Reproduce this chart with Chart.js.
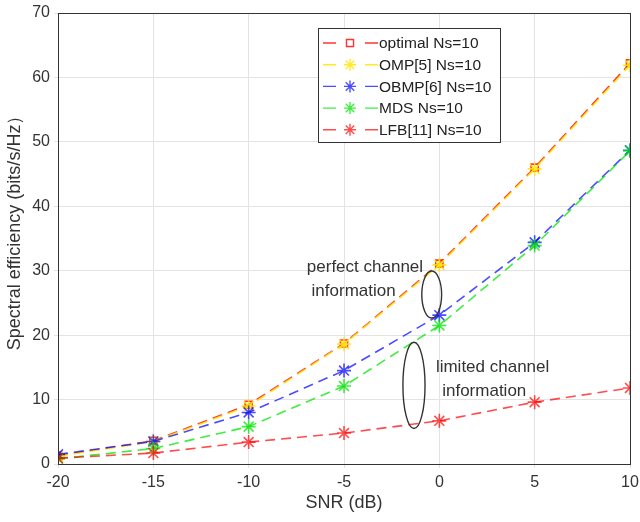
<!DOCTYPE html>
<html>
<head>
<meta charset="utf-8">
<script src="https://cdn.jsdelivr.net/npm/chart.js@4.4.0/dist/chart.umd.min.js"></script>
<style>
  body { margin: 0; background: #fff; }
  #wrap { width: 640px; height: 522px; }
</style>
</head>
<body>
<div id="wrap"><canvas id="chart"></canvas></div>
<script>
// SNR values (dB)
const snr = [-20, -15, -10, -5, 0, 5, 10];

// spectral efficiency per scheme
const optimal = [1.3, 3.6, 9.2, 18.7, 31.1, 46.0, 62.2];
const omp     = [1.2, 3.5, 9.0, 18.6, 30.9, 45.8, 61.9];
const obmp    = [1.5, 3.5, 8.0, 14.5, 23.1, 34.4, 48.7];
const mds     = [0.8, 2.4, 5.8, 12.1, 21.5, 33.9, 48.6];
const lfb     = [0.9, 1.7, 3.4, 4.8, 6.7, 9.6, 11.8];

const xTicks = [-20, -15, -10, -5, 0, 5, 10];
const yTicks = [0, 10, 20, 30, 40, 50, 60, 70];

// annotation notes, in data units
const notes = [
    { text: 'perfect channel', x: -6.95, y: 30.6 },
    { text: 'information', x: -6.7, y: 26.8 },
    { text: 'limited channel', x: -0.18, y: 15.0 },
    { text: 'information', x: 0.15, y: 11.3 }
];
const ellipses = [
    { x: -0.4, y: 26.3, rx: 0.52, ry: 3.65 },
    { x: -1.33, y: 12.2, rx: 0.58, ry: 6.7 }
];

const font = '"Liberation Sans", Arial, sans-serif';

function series(label, values, color, style, order) {
    return {
        label: label,
        data: snr.map((x, i) => ({ x: x, y: values[i] })),
        borderColor: color,
        backgroundColor: color,
        borderWidth: 1.6,
        borderDash: [10, 6],
        pointStyle: style,
        pointRadius: style === 'rect' ? 5 : 7,
        pointBorderColor: color,
        pointBackgroundColor: style === 'rect' ? 'rgba(0,0,0,0)' : color,
        pointBorderWidth: 1.6,
        tension: 0,
        order: order
    };
}

const datasets = [
    series('optimal Ns=10', optimal, 'rgba(255,0,0,0.8)', 'rect', 4),
    series('OMP[5] Ns=10', omp, 'rgba(255,230,0,0.85)', 'star', 3),
    series('OBMP[6] Ns=10', obmp, 'rgba(0,0,255,0.7)', 'star', 2),
    series('MDS Ns=10', mds, 'rgba(0,230,0,0.75)', 'star', 1),
    series('LFB[11] Ns=10', lfb, 'rgba(255,0,0,0.7)', 'star', 0)
];

// top/right border of the axes box
const frame = {
    id: 'frame',
    afterDraw(chart) {
        const a = chart.chartArea, ctx = chart.ctx;
        ctx.save();
        ctx.strokeStyle = '#333';
        ctx.lineWidth = 1;
        ctx.strokeRect(a.left + 0.5, a.top + 0.5, a.right - a.left, a.bottom - a.top);
        ctx.restore();
    }
};

// text notes and ellipses
const annotate = {
    id: 'annotate',
    afterDraw(chart) {
        const ctx = chart.ctx, xs = chart.scales.x, ys = chart.scales.y;
        ctx.save();
        ctx.fillStyle = '#333';
        ctx.font = '17px ' + font;
        ctx.textAlign = 'left';
        ctx.textBaseline = 'middle';
        notes.forEach(n => ctx.fillText(n.text, xs.getPixelForValue(n.x), ys.getPixelForValue(n.y)));
        ctx.strokeStyle = '#333';
        ctx.lineWidth = 1.4;
        ellipses.forEach(e => {
            const cx = xs.getPixelForValue(e.x), cy = ys.getPixelForValue(e.y);
            const rx = Math.abs(xs.getPixelForValue(e.x + e.rx) - cx);
            const ry = Math.abs(ys.getPixelForValue(e.y + e.ry) - cy);
            ctx.beginPath();
            ctx.ellipse(cx, cy, rx, ry, 0, 0, Math.PI * 2);
            ctx.stroke();
        });
        ctx.restore();
    }
};

// matlab style legend box in upper right
const legendBox = {
    id: 'legendBox',
    afterDraw(chart) {
        const ctx = chart.ctx;
        const left = 318, top = 28, w = 182, h = 114, row = 21.7;
        ctx.save();
        ctx.fillStyle = '#fff';
        ctx.fillRect(left, top, w, h);
        ctx.strokeStyle = '#333';
        ctx.lineWidth = 1;
        ctx.strokeRect(left + 0.5, top + 0.5, w, h);
        ctx.font = '15.5px ' + font;
        ctx.textBaseline = 'middle';
        chart.data.datasets.forEach((ds, i) => {
            const y = top + 15 + i * row;
            ctx.strokeStyle = ds.borderColor;
            ctx.lineWidth = 1.4;
            ctx.setLineDash([]);
            ctx.beginPath();
            ctx.moveTo(323, y); ctx.lineTo(336, y);
            ctx.moveTo(365, y); ctx.lineTo(378, y);
            ctx.stroke();
            ctx.fillStyle = ds.pointBackgroundColor;
            Chart.helpers.drawPoint(ctx, {
                pointStyle: ds.pointStyle,
                radius: ds.pointStyle === 'rect' ? 5 : 6,
                rotation: 0,
                borderWidth: ds.pointBorderWidth
            }, 350, y);
            ctx.fillStyle = '#222';
            ctx.fillText(ds.label, 379, y + 1);
        });
        ctx.restore();
    }
};

new Chart(document.getElementById('chart'), {
    type: 'line',
    data: { datasets: datasets },
    options: {
        responsive: true,
        maintainAspectRatio: false,
        animation: false,
        layout: { padding: { top: 13, right: 10, left: 0, bottom: 4 } },
        plugins: {
            legend: { display: false },
            tooltip: { enabled: false }
        },
        scales: {
            x: {
                type: 'linear',
                min: -20,
                max: 10,
                afterBuildTicks: s => { s.ticks = xTicks.map(v => ({ value: v })); },
                afterFit: s => { s.height = 54; s.paddingLeft = 0; s.paddingRight = 0; },
                ticks: { color: '#333', font: { family: font, size: 16 }, padding: 5 },
                grid: { color: '#e3e3e3', tickLength: 4 },
                border: { color: '#333' },
                title: { display: true, text: 'SNR (dB)', color: '#333', font: { family: font, size: 18 }, padding: { top: 0 } }
            },
            y: {
                min: 0,
                max: 70,
                afterBuildTicks: s => { s.ticks = yTicks.map(v => ({ value: v })); },
                afterFit: s => { s.width = 58; s.paddingTop = 0; s.paddingBottom = 0; },
                ticks: { color: '#333', font: { family: font, size: 16 }, padding: 4 },
                grid: { color: '#e3e3e3', tickLength: 4 },
                border: { color: '#333' },
                title: { display: true, text: '    Spectral efficiency (bits/s/Hz）', color: '#333', font: { family: font, size: 18 }, padding: { bottom: 0 } }
            }
        }
    },
    plugins: [frame, annotate, legendBox]
});
</script>
</body>
</html>
